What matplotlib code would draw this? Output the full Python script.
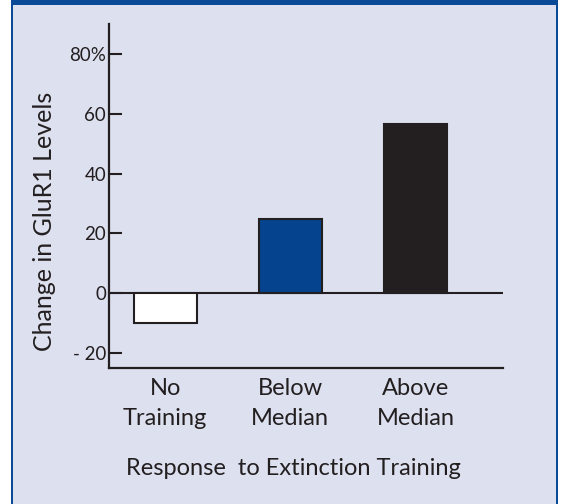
import matplotlib.pyplot as plt
from matplotlib.patches import Rectangle

categories = ["No\nTraining", "Below\nMedian", "Above\nMedian"]
values = [-10, 24.7, 56.7]
bar_colors = ["#ffffff", "#05438f", "#231f20"]
ytick_vals = [-20, 0, 20, 40, 60, 80]
ytick_labels = ["- 20", "0", "20", "40", "60", "80%"]

plt.rcParams['font.family'] = ['Lato', 'DejaVu Sans']
ink = "#231f20"

fig = plt.figure(figsize=(5.61, 5.04), dpi=100, facecolor="white")
W, H = 561.0, 504.0
# blue frame and lavender panel, behind the axes
fig.patches.append(Rectangle((11 / W, 0), (558 - 11) / W, 1, transform=fig.transFigure,
                             facecolor="#0b4a97", edgecolor="none", zorder=-10))
fig.patches.append(Rectangle((13 / W, 0), (556 - 13) / W, 1 - 5 / H, transform=fig.transFigure,
                             facecolor="#dde0ef", edgecolor="none", zorder=-9))

ax = fig.add_axes([109 / W, 1 - 368 / H, (503 - 109) / W, (368 - 24) / H])
ax.set_facecolor("none")

x = range(len(categories))
ax.bar(x, values, width=0.5, color=bar_colors, edgecolor=ink, linewidth=1.5, zorder=3)
ax.axhline(0, color=ink, linewidth=1.5, zorder=2)

ax.set_xlim(-0.45, 2.7)
ax.set_ylim(-25, 90)

for s in ["top", "right"]:
    ax.spines[s].set_visible(False)
for s in ["left", "bottom"]:
    ax.spines[s].set_color(ink)
    ax.spines[s].set_linewidth(1.6)

ax.set_yticks(ytick_vals)
ax.set_yticklabels(ytick_labels, fontsize=13.5, color=ink)
ax.tick_params(axis="y", direction="in", length=9.5, width=1.5, color=ink, pad=2)

ax.set_xticks(list(x))
ax.set_xticklabels(categories, fontsize=17, color=ink, linespacing=1.55)
ax.tick_params(axis="x", length=0, pad=7)

ax.set_xlabel("Response  to Extinction Training", fontsize=17, color=ink)
ax.xaxis.set_label_coords(0.467, -0.263)
ax.set_ylabel("Change in GluR1 Levels", fontsize=18, color=ink)
ax.yaxis.set_label_coords(-0.135, 0.426)

fig.savefig("out.png", dpi=100)
